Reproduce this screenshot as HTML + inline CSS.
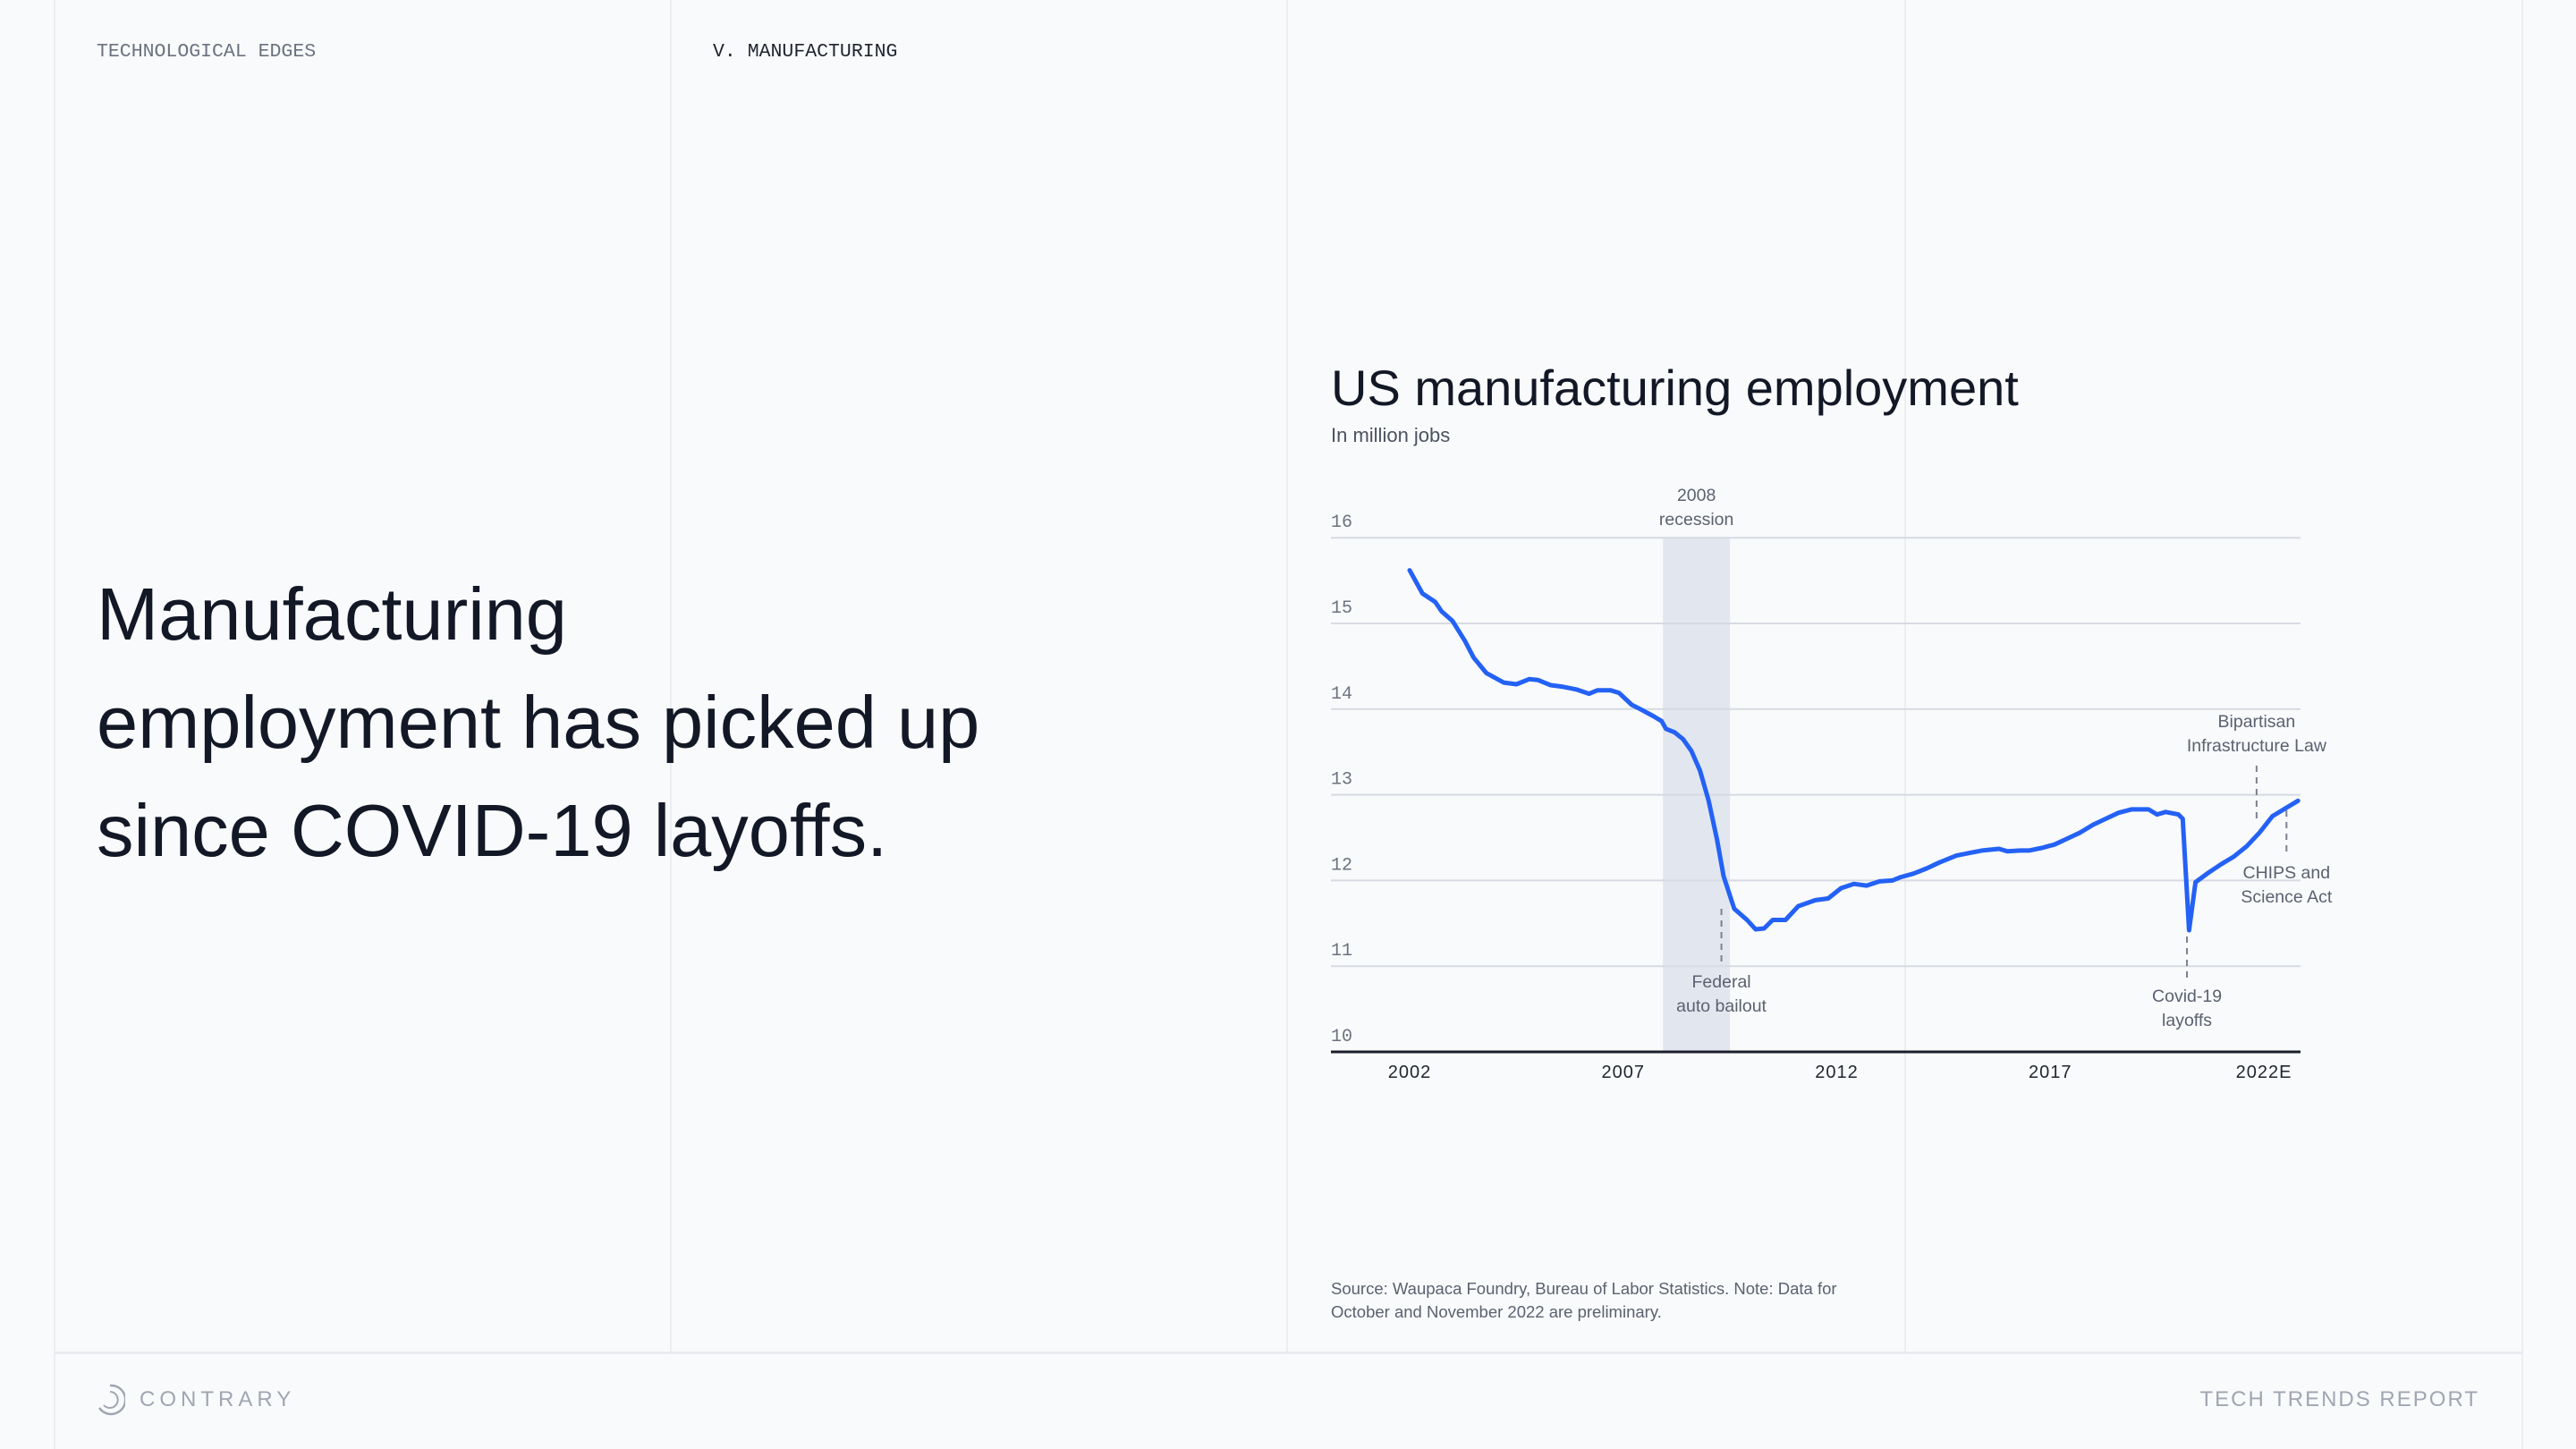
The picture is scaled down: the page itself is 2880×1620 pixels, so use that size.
<!DOCTYPE html>
<html><head><meta charset="utf-8">
<style>
html,body{margin:0;padding:0}
body{width:2880px;height:1620px;background:#f9fafb;position:relative;overflow:hidden;font-family:"Liberation Sans",sans-serif;color:#121826}
.vl{position:absolute;top:0;width:2px;height:1512px;background:#eceef1}
.t{position:absolute;white-space:nowrap}
</style></head><body>
<div class="vl" style="left:60px;height:1620px"></div>
<div class="vl" style="left:749px"></div>
<div class="vl" style="left:1438px"></div>
<div class="vl" style="left:2129px"></div>
<div class="vl" style="left:2819px;height:1620px"></div>
<div style="position:absolute;left:60px;top:1511px;width:2761px;height:3px;background:#e8ebf0"></div>

<div class="t" style="left:108px;top:46px;font-family:'Liberation Mono',monospace;font-size:21.5px;color:#6b7280">TECHNOLOGICAL EDGES</div>
<div class="t" style="left:797px;top:46px;font-family:'Liberation Mono',monospace;font-size:21.5px;color:#1f2430">V. MANUFACTURING</div>

<div class="t" style="left:108px;top:626px;font-size:83px;line-height:121px;color:#121826">Manufacturing<br>employment has picked up<br>since COVID-19 layoffs.</div>

<div class="t" style="left:1488px;top:401px;font-size:56px;color:#121826">US manufacturing employment</div>
<div class="t" style="left:1488px;top:474px;font-size:22px;color:#4b5260">In million jobs</div>

<div class="t" style="left:1488px;top:1428px;font-size:18.5px;line-height:26px;color:#5a6170">Source: Waupaca Foundry, Bureau of Labor Statistics. Note: Data for<br>October and November 2022 are preliminary.</div>

<svg class="t" style="left:106px;top:1546px" width="34" height="38" viewBox="0 0 34 38">
<path d="M17 3 A16 16 0 1 1 5 28" fill="none" stroke="#a0a6b3" stroke-width="2.5"/>
<path d="M17 10 A9 9 0 1 1 10 25" fill="none" stroke="#a0a6b3" stroke-width="2"/>
</svg>
<div class="t" style="left:156px;top:1551px;font-size:24px;letter-spacing:5px;color:#a0a6b3">CONTRARY</div>
<div class="t" style="right:108px;top:1551px;font-size:24px;letter-spacing:2px;color:#a0a6b3">TECH TRENDS REPORT</div>

<svg id="chart" style="position:absolute;left:0;top:0" width="2880" height="1620"></svg>

<script>
const years=[2002.0,2002.3,2002.6,2002.75,2003.0,2003.3,2003.5,2003.8,2004.2,2004.5,2004.8,2005.0,2005.3,2005.6,2005.9,2006.2,2006.4,2006.7,2006.9,2007.2,2007.4,2007.7,2007.9,2008.0,2008.2,2008.4,2008.6,2008.8,2009.0,2009.2,2009.35,2009.6,2009.9,2010.1,2010.3,2010.5,2010.8,2011.1,2011.5,2011.8,2012.1,2012.4,2012.7,2013.0,2013.3,2013.5,2013.8,2014.1,2014.4,2014.8,2015.1,2015.4,2015.8,2016.0,2016.3,2016.5,2016.8,2017.1,2017.4,2017.7,2018.0,2018.3,2018.6,2018.9,2019.3,2019.5,2019.7,2020.0,2020.1,2020.25,2020.4,2020.7,2021.0,2021.3,2021.6,2021.9,2022.2,2022.5,2022.8];
const jobs=[15.62,15.35,15.25,15.14,15.03,14.79,14.6,14.42,14.31,14.29,14.35,14.34,14.28,14.26,14.23,14.18,14.22,14.22,14.19,14.05,14.0,13.92,13.86,13.77,13.73,13.65,13.51,13.28,12.93,12.47,12.05,11.67,11.54,11.43,11.44,11.54,11.54,11.70,11.77,11.79,11.91,11.96,11.94,11.99,12.0,12.04,12.08,12.14,12.21,12.29,12.32,12.35,12.37,12.34,12.35,12.35,12.38,12.42,12.49,12.56,12.65,12.72,12.79,12.83,12.83,12.77,12.80,12.77,12.72,11.42,11.98,12.09,12.19,12.28,12.40,12.56,12.75,12.84,12.93];
const yTicks=[10,11,12,13,14,15,16];
const xTickYears=[2002,2007,2012,2017,2022];
const xTickLabels=["2002","2007","2012","2017","2022E"];
const recession=[2007.93,2009.5];
const annYears=[2009.3,2020.2,2021.83,2022.53];

const X0=1576,PX_YR=47.75,Y0=1176,PX_U=95.8;
const xs=v=>X0+(v-2002)*PX_YR;
const ys=v=>Y0-(v-10)*PX_U;
const svg=document.getElementById('chart');
const NS='http://www.w3.org/2000/svg';
function mk(tag,attrs,txt){const e=document.createElementNS(NS,tag);for(const k in attrs)e.setAttribute(k,attrs[k]);if(txt!==undefined)e.textContent=txt;svg.appendChild(e);return e;}

const band=mk('rect',{x:xs(recession[0]),y:ys(16),width:xs(recession[1])-xs(recession[0]),height:ys(10)-ys(16),fill:'#e2e7ef'});



yTicks.forEach(v=>{
  if(v>10){const g=mk('line',{x1:1488,x2:2572,y1:ys(v),y2:ys(v),stroke:'#d6dae2','stroke-width':2});
  
  }
  const t=mk('text',{x:1488,y:ys(v)-12,'font-family':'Liberation Mono, monospace','font-size':20,fill:'#6b7280'},String(v));
  
  
});
const ax=mk('line',{x1:1488,x2:2572,y1:ys(10),y2:ys(10),stroke:'#1a1f2b','stroke-width':3});


xTickYears.forEach((yr,i)=>{
  const t=mk('text',{x:xs(yr),y:1205,'text-anchor':'middle','font-family':'Liberation Sans, sans-serif','font-size':20,fill:'#1f2430','letter-spacing':1},xTickLabels[i]);
  
  
});

const annText=[["Federal","auto bailout"],["Covid-19","layoffs"],["Bipartisan","Infrastructure Law"],["CHIPS and","Science Act"]];
const annDash=[[1016,1080],[1047,1093],[856,918],[906,955]];
const annTy=[1104,1120,813,982];
annYears.forEach((yr,i)=>{
  const l=mk('line',{x1:xs(yr),x2:xs(yr),y1:annDash[i][0],y2:annDash[i][1],stroke:'#7a8190','stroke-width':2,'stroke-dasharray':'7,6'});
  
  
  annText[i].forEach((s,j)=>{
    const t=mk('text',{x:xs(yr),y:annTy[i]+j*27,'text-anchor':'middle','font-size':19.5,fill:'#5a6170','font-family':'Liberation Sans, sans-serif'},s);
    
    
  });
});
['2008','recession'].forEach((s,j)=>{
  const t=mk('text',{x:(xs(recession[0])+xs(recession[1]))/2,y:560+j*27,'text-anchor':'middle','font-size':19.5,fill:'#5a6170','font-family':'Liberation Sans, sans-serif'},s);
  
  
});

const d=years.map((yr,i)=>(i?'L':'M')+xs(yr).toFixed(1)+','+ys(jobs[i]).toFixed(1)).join(' ');
const line=mk('path',{d:d,fill:'none',stroke:'#2461f5','stroke-width':5,'stroke-linejoin':'round','stroke-linecap':'round'});


</script>
</body></html>
